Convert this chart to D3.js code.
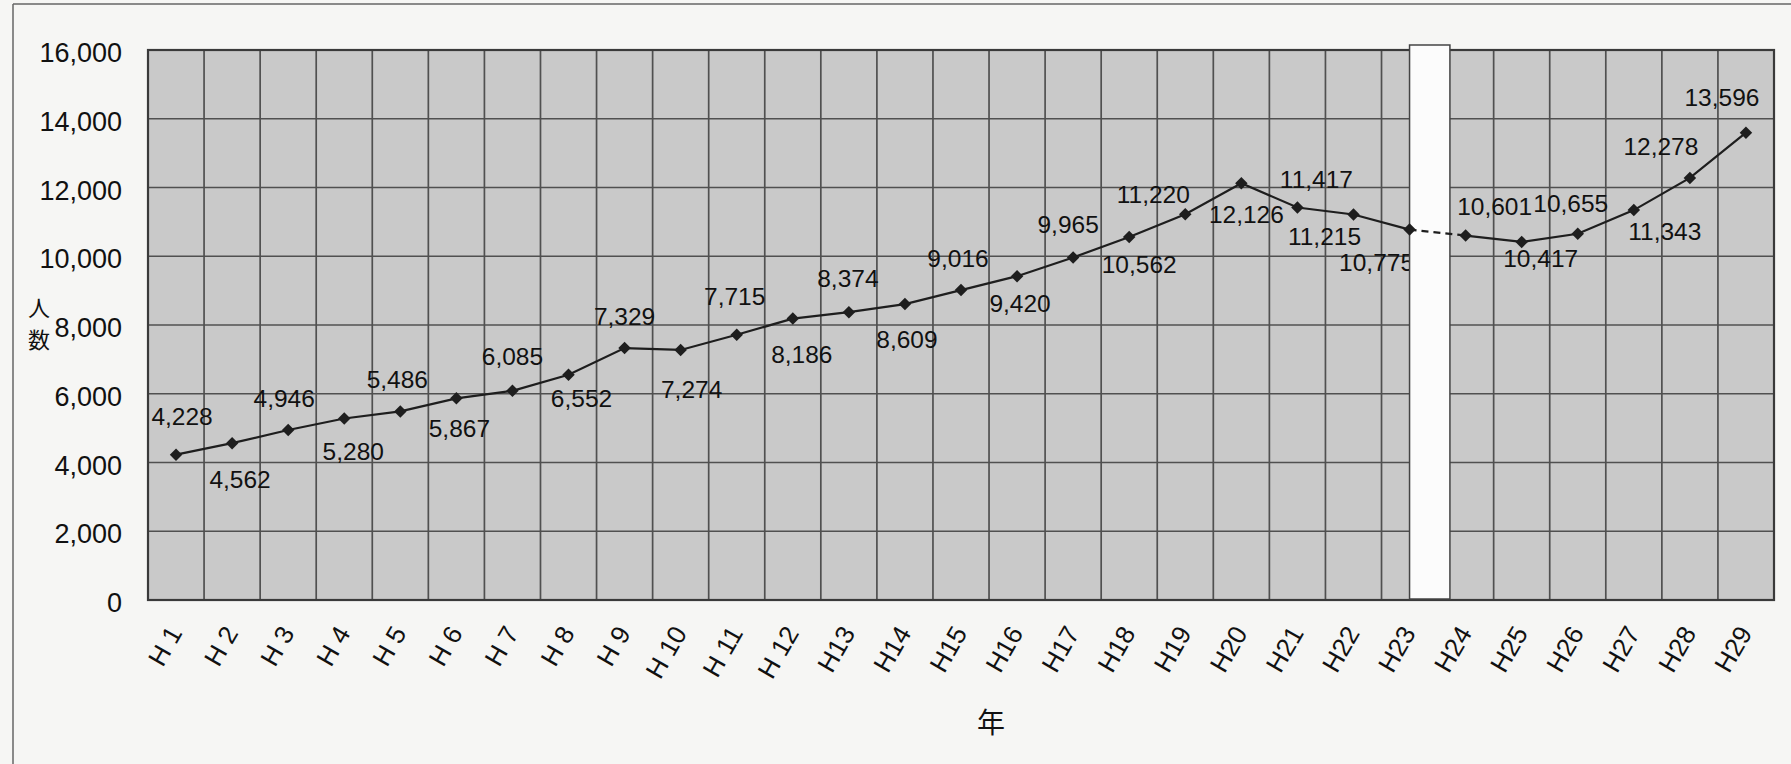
<!DOCTYPE html>
<html><head><meta charset="utf-8">
<script src="https://cdn.jsdelivr.net/npm/d3@7"></script>
<style>
html,body{margin:0;padding:0;background:#f6f6f4;}
svg{display:block;}
</style></head>
<body>
<svg id="c" width="1791" height="764"></svg>
<script>
// ---- data ----
const categories = ["H 1","H 2","H 3","H 4","H 5","H 6","H 7","H 8","H 9","H 10","H 11","H 12","H13","H14","H15","H16","H17","H18","H19","H20","H21","H22","H23","H24","H25","H26","H27","H28","H29"];
const values = [4228,4562,4946,5280,5486,5867,6085,6552,7329,7274,7715,8186,8374,8609,9016,9420,9965,10562,11220,12126,11417,11215,10775,10601,10417,10655,11343,12278,13596];
const yTicks = [0,2000,4000,6000,8000,10000,12000,14000,16000];
const gapAfter = "H23"; // break between H23 and H24 (dashed segment)
const yTitle = ["人","数"];
const xTitle = "年";

// ---- layout (label nudges relative to each point) ----
const labelDx = [6,8,-4,9,-3,3,0,13,0,11,-2,9,-1,2,-3,3,-5,10,-32,5,19,-29,-33,29,19,-7,31,-29,-24];
const labelDy = [-30,45,-23,41,-23,39,-26,32,-23,48,-30,44,-25,44,-23,36,-24,36,-11,40,-20,31,41,-21,25,-22,30,-23,-27];

const svg = d3.select("#c");
const W = 1791, H = 764;
const m = {l:148, r:1774, t:50, b:600};
const numFont = "'Liberation Sans', Arial, sans-serif";
const jpFont = "'Noto Sans CJK JP', sans-serif";

const x = d3.scaleBand().domain(categories).range([m.l, m.r]).paddingInner(0).paddingOuter(0);
const y = d3.scaleLinear().domain([0,16000]).range([m.b, m.t]);
const cx = d => x(d) + x.bandwidth()/2;

// outer frame (top and left)
svg.append("line").attr("x1",13).attr("x2",W).attr("y1",4).attr("y2",4).attr("stroke","#666").attr("stroke-width",1.5);
svg.append("line").attr("x1",13).attr("x2",13).attr("y1",4).attr("y2",H).attr("stroke","#666").attr("stroke-width",1.5);

// plot background
svg.append("rect").attr("x",m.l).attr("y",m.t).attr("width",m.r-m.l).attr("height",m.b-m.t).attr("fill","#c9c9c9");

// grid
const g = svg.append("g");
g.selectAll(".hg").data(yTicks).join("line")
  .attr("x1",m.l).attr("x2",m.r).attr("y1",d=>y(d)).attr("y2",d=>y(d))
  .attr("stroke","#505050").attr("stroke-width",1.7);
g.selectAll(".vg").data(d3.range(categories.length+1)).join("line")
  .attr("x1",i=>m.l+i*x.bandwidth()).attr("x2",i=>m.l+i*x.bandwidth())
  .attr("y1",m.t).attr("y2",m.b)
  .attr("stroke","#505050").attr("stroke-width",1.7);
svg.append("rect").attr("x",m.l).attr("y",m.t).attr("width",m.r-m.l).attr("height",m.b-m.t)
  .attr("fill","none").attr("stroke","#3a3a3a").attr("stroke-width",2.2);

// y axis labels
const yAxis = d3.axisLeft(y).tickValues(yTicks).tickSize(0).tickPadding(0).tickFormat(d3.format(","));
const ya = svg.append("g").attr("transform",`translate(${m.l-26},3)`).call(yAxis);
ya.select(".domain").remove();
ya.selectAll("text").attr("font-family",numFont).attr("font-size",27).attr("fill","#111");

// x axis labels
const xAxis = d3.axisBottom(x).tickSize(0).tickPadding(0);
const xa = svg.append("g").attr("transform",`translate(0,${m.b})`).call(xAxis);
xa.select(".domain").remove();
xa.selectAll(".tick text")
  .attr("font-family",numFont).attr("font-size",26).attr("fill","#111")
  .attr("text-anchor","end").attr("dy",null).attr("y",null)
  .attr("transform","translate(7,33) rotate(-60)");

// axis titles
svg.append("text").attr("x",991).attr("y",733).attr("text-anchor","middle")
  .attr("font-family",jpFont).attr("font-size",28).attr("fill","#111").text(xTitle);
svg.selectAll(".yt").data(yTitle).join("text")
  .attr("x",39).attr("y",(d,i)=>316+i*32).attr("text-anchor","middle")
  .attr("font-family",jpFont).attr("font-size",22).attr("fill","#111").text(d=>d);

// data labels
svg.selectAll(".dl").data(values).join("text")
  .attr("x",(d,i)=>cx(categories[i])+labelDx[i])
  .attr("y",(d,i)=>y(d)+labelDy[i])
  .attr("text-anchor","middle")
  .attr("font-family",numFont).attr("font-size",24.5).attr("fill","#111")
  .text(d=>d3.format(",")(d));

// break bar (white) between H23 and H24
const gi = categories.indexOf(gapAfter);
svg.append("rect")
  .attr("x",cx(categories[gi])).attr("y",m.t-5)
  .attr("width",x.bandwidth()*0.72).attr("height",m.b-m.t+4)
  .attr("fill","#fcfcfc").attr("stroke","#444").attr("stroke-width",1.5);

// line segments
const pts = values.map((v,i)=>[cx(categories[i]), y(v)]);
const line = d3.line();
svg.append("path").attr("d",line(pts.slice(0,gi+1))).attr("fill","none").attr("stroke","#1e1e1e").attr("stroke-width",2.2);
svg.append("path").attr("d",line(pts.slice(gi,gi+2))).attr("fill","none").attr("stroke","#1e1e1e").attr("stroke-width",2.2).attr("stroke-dasharray","7,5");
svg.append("path").attr("d",line(pts.slice(gi+1))).attr("fill","none").attr("stroke","#1e1e1e").attr("stroke-width",2.2);

// markers
svg.selectAll(".mk").data(pts).join("path")
  .attr("transform",d=>`translate(${d[0]},${d[1]}) rotate(45)`)
  .attr("d",d3.symbol().type(d3.symbolSquare).size(78)())
  .attr("fill","#1e1e1e");
</script>
</body></html>
